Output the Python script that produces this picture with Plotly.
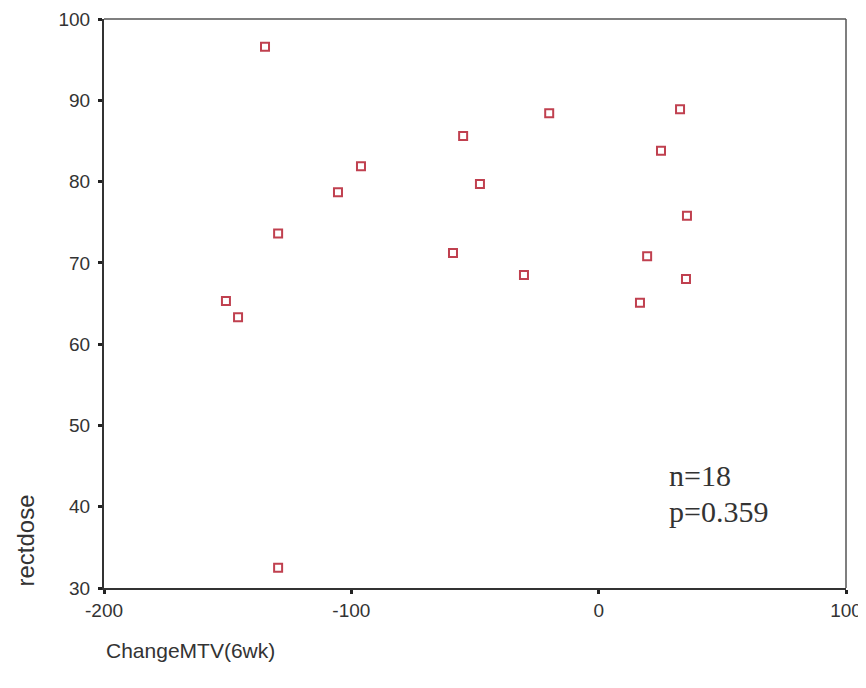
import plotly.graph_objects as go

change_mtv = [-134.9, -129.6, -105.4, -96.1, -150.7, -145.8, -129.6, -54.8, -48.0,
              -58.9, -30.2, -20.0, 32.9, 25.2, 35.7, 19.6, 35.3, 16.7]
rectdose = [96.6, 73.6, 78.7, 81.9, 65.3, 63.3, 32.5, 85.6, 79.7,
            71.2, 68.5, 88.4, 88.9, 83.8, 75.8, 70.8, 68.0, 65.1]

x_ticks = [-200, -100, 0, 100]
x_tick_labels = ["-200", "-100", "0", "100"]
y_ticks = [30, 40, 50, 60, 70, 80, 90, 100]
y_tick_labels = ["30", "40", "50", "60", "70", "80", "90", "100"]

fig = go.Figure()
fig.add_trace(go.Scatter(
    x=change_mtv, y=rectdose, mode="markers",
    marker=dict(symbol="square-open", size=8, color="#c0404f", line=dict(width=2, color="#c0404f")),
    showlegend=False, cliponaxis=False,
))

fig.update_layout(
    width=858, height=672,
    margin=dict(l=96, r=20, t=11, b=92, autoexpand=False),
    paper_bgcolor="white", plot_bgcolor="white",
    font=dict(family="Liberation Sans, Arial, sans-serif", size=19, color="#333"),
    xaxis=dict(range=[-200, 100], tickvals=x_ticks, ticktext=x_tick_labels,
               showgrid=False, zeroline=False,
               showline=True, linecolor="#333", linewidth=2, mirror=False,
               ticks="outside", ticklen=4, tickwidth=3, tickcolor="#222",
               tickfont=dict(size=19, color="#333")),
    yaxis=dict(range=[30, 100], tickvals=y_ticks, ticktext=y_tick_labels,
               showgrid=False, zeroline=False,
               showline=True, linecolor="#333", linewidth=2, mirror=False,
               ticks="outside", ticklen=4, tickwidth=3, tickcolor="#222",
               ticklabelstandoff=4,
               tickfont=dict(size=19, color="#333")),
    shapes=[
        dict(type="line", xref="paper", yref="paper", x0=0, x1=1, y0=1, y1=1,
             line=dict(color="#555", width=1.5)),
        dict(type="line", xref="paper", yref="paper", x0=1, x1=1, y0=0, y1=1,
             line=dict(color="#555", width=1.5)),
    ],
    annotations=[
        dict(text="n=18", xref="paper", yref="paper", x=0.759, y=0.197,
             xanchor="left", yanchor="middle", showarrow=False, align="left",
             font=dict(family="Liberation Serif, Times New Roman, serif", size=30, color="#333")),
        dict(text="p=0.359", xref="paper", yref="paper", x=0.759, y=0.135,
             xanchor="left", yanchor="middle", showarrow=False, align="left",
             font=dict(family="Liberation Serif, Times New Roman, serif", size=30, color="#333")),
        dict(text="rectdose", xref="paper", yref="paper", x=-0.106, y=0.084,
             xanchor="center", yanchor="middle", textangle=-90, showarrow=False,
             font=dict(size=24, color="#333")),
        dict(text="ChangeMTV(6wk)", xref="paper", yref="paper", x=0.0, y=-0.109,
             xanchor="left", yanchor="middle", showarrow=False,
             font=dict(size=21, color="#333")),
    ],
)

fig.write_html("out.html")
